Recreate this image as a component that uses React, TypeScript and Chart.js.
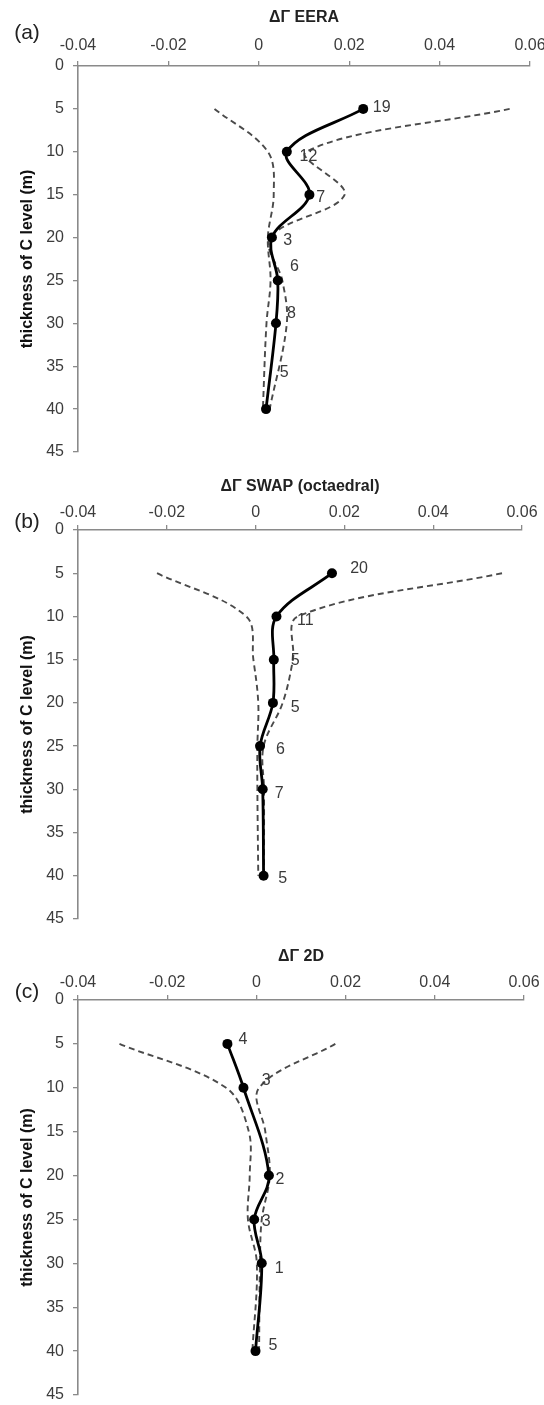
import React, { useRef, useEffect } from "react";
import { Chart, registerables } from "chart.js";

Chart.register(...registerables);
Chart.defaults.font.family = "'Liberation Sans', Arial, sans-serif";

// (a) ΔΓ EERA
const depthsA = [5, 10, 15, 20, 25, 30, 40];
const meanA = [0.0231, 0.0062, 0.0112, 0.0029, 0.0042, 0.0038, 0.0016];
const lowA = [-0.0098, 0.002, 0.0033, 0.002, 0.0026, 0.0017, 0.0009];
const highA = [0.0555, 0.0105, 0.019, 0.0025, 0.0052, 0.0062, 0.0024];
const countsA = [19, 12, 7, 3, 6, 8, 5];
const countXA = [0.0272, 0.011, 0.0137, 0.0064, 0.0079, 0.0072, 0.0056];
const countYA = [4.8, 10.6, 15.3, 20.3, 23.4, 28.9, 35.8];

// (b) ΔΓ SWAP (octaedral)
const depthsB = [5, 10, 15, 20, 25, 30, 40];
const meanB = [0.0172, 0.0047, 0.0041, 0.0039, 0.001, 0.0016, 0.0018];
const lowB = [-0.0222, -0.0021, -0.0005, 0.0006, 0.0004, 0.0004, 0.0006];
const highB = [0.0555, 0.0095, 0.0084, 0.0061, 0.0018, 0.0019, 0.0019];
const countsB = [20, 11, 5, 5, 6, 7, 5];
const countXB = [0.0233, 0.0112, 0.0089, 0.0089, 0.0056, 0.0053, 0.0061];
const countYB = [4.5, 10.5, 15.1, 20.5, 25.4, 30.5, 40.3];

// (c) ΔΓ 2D
const depthsC = [5, 10, 20, 25, 30, 40];
const meanC = [-0.0065, -0.0029, 0.0028, -0.0005, 0.0012, -0.0002];
const bandDepthsC = [5, 10, 15, 20, 25, 30, 40];
const lowC = [-0.0307, -0.0068, -0.0017, -0.0015, -0.0019, 0.0001, -0.0009];
const highC = [0.0177, 0.0006, 0.002, 0.003, 0.0012, 0.0008, 0.0006];
const countsC = [4, 3, 2, 3, 1, 5];
const countXC = [-0.003, 0.0022, 0.0053, 0.0022, 0.0051, 0.0037];
const countYC = [4.5, 9.2, 20.5, 25.3, 30.6, 39.4];

const xTicks = [-0.04, -0.02, 0, 0.02, 0.04, 0.06];
const yTicks = [0, 5, 10, 15, 20, 25, 30, 35, 40, 45];

interface PanelProps {
  letter: string;
  title: string;
  depths: number[];
  mean: number[];
  bandDepths: number[];
  low: number[];
  high: number[];
  counts: number[];
  countX: number[];
  countY: number[];
  top: number;
  height: number;
  axisTop: number;
  axisBottom: number;
  axisLeft: number;
  axisRight: number;
  titlePad: number;
  tickPad: number;
  letterY: number;
}

const pts = (xs: number[], ys: number[]) => xs.map((x, i) => ({ x, y: ys[i] }));

function Panel(p: PanelProps) {
  const canvasRef = useRef<HTMLCanvasElement>(null);

  useEffect(() => {
    if (!canvasRef.current) return;

    // sample counts next to the points, plus the panel letter
    const textPlugin = {
      id: "panelText",
      afterDatasetsDraw(chart: Chart) {
        const ctx = chart.ctx;
        const sx = chart.scales.x;
        const sy = chart.scales.y;
        ctx.save();
        ctx.font = "16px 'Liberation Sans', Arial, sans-serif";
        ctx.fillStyle = "#3a3a3a";
        ctx.textAlign = "center";
        ctx.textBaseline = "middle";
        p.counts.forEach((n, i) => {
          ctx.fillText(String(n), sx.getPixelForValue(p.countX[i]), sy.getPixelForValue(p.countY[i]));
        });
        ctx.font = "21px 'Liberation Sans', Arial, sans-serif";
        ctx.fillStyle = "#222";
        ctx.fillText(p.letter, 27, p.letterY);
        ctx.restore();
      },
    };

    const dashed = {
      borderColor: "#4a4a4a",
      borderWidth: 1.9,
      borderDash: [6, 4],
      pointRadius: 0,
      showLine: true,
      tension: 0.35,
      fill: false,
    };

    const chart = new Chart(canvasRef.current, {
      type: "scatter",
      data: {
        datasets: [
          {
            label: "mean",
            data: pts(p.mean, p.depths),
            borderColor: "#000",
            backgroundColor: "#000",
            borderWidth: 2.8,
            pointRadius: 5,
            pointBorderWidth: 0,
            showLine: true,
            tension: 0.35,
            order: 0,
          },
          { label: "low", data: pts(p.low, p.bandDepths), ...dashed, order: 1 },
          { label: "high", data: pts(p.high, p.bandDepths), ...dashed, order: 2 },
        ] as any,
      },
      options: {
        animation: false,
        responsive: false,
        maintainAspectRatio: false,
        events: [],
        layout: {
          padding: { left: 0, top: 0, right: 544 - p.axisRight, bottom: p.height - p.axisBottom },
        },
        plugins: {
          legend: { display: false },
          tooltip: { enabled: false },
        },
        scales: {
          x: {
            type: "linear",
            position: "top",
            min: -0.04,
            max: 0.06,
            afterBuildTicks: (s: any) => {
              s.ticks = xTicks.map((v) => ({ value: v }));
            },
            afterFit: (s: any) => {
              s.height = p.axisTop;
              s.paddingLeft = 0;
              s.paddingRight = 0;
            },
            ticks: {
              color: "#3c3c3c",
              font: { size: 16 },
              padding: p.tickPad,
              maxRotation: 0,
              autoSkip: false,
              callback: (v: any) => String(Math.round(Number(v) * 100) / 100),
            },
            grid: {
              drawOnChartArea: false,
              drawTicks: true,
              tickLength: 5,
              color: "#8a8a8a",
              lineWidth: 1.3,
            },
            border: { display: true, color: "#8a8a8a", width: 1.6 },
            title: {
              display: true,
              text: p.title,
              color: "#222",
              font: { size: 16, weight: "bold" },
              padding: { top: p.titlePad, bottom: 0 },
            },
          },
          y: {
            type: "linear",
            position: "left",
            reverse: true,
            min: 0,
            max: 45,
            afterBuildTicks: (s: any) => {
              s.ticks = yTicks.map((v) => ({ value: v }));
            },
            afterFit: (s: any) => {
              s.width = p.axisLeft;
              s.paddingTop = 0;
              s.paddingBottom = 0;
            },
            ticks: {
              color: "#3c3c3c",
              font: { size: 16 },
              padding: 9,
              autoSkip: false,
            },
            grid: {
              drawOnChartArea: false,
              drawTicks: true,
              tickLength: 5,
              color: "#8a8a8a",
              lineWidth: 1.3,
            },
            border: { display: true, color: "#8a8a8a", width: 1.6 },
            title: {
              display: true,
              text: "thickness of C level (m)",
              color: "#111",
              font: { size: 16, weight: "bold" },
              padding: { top: 18, bottom: 0 },
            },
          },
        },
      },
      plugins: [textPlugin],
    } as any);

    return () => {
      chart.destroy();
    };
  }, []);

  return (
    <canvas
      ref={canvasRef}
      width={544}
      height={p.height}
      style={{ position: "absolute", left: 0, top: p.top, width: 544, height: p.height }}
    />
  );
}

export default function App() {
  return (
    <div style={{ position: "absolute", left: 0, top: 0, width: 544, height: 1405, background: "#fff" }}>
      <Panel
        letter="(a)"
        title="ΔΓ EERA"
        depths={depthsA}
        mean={meanA}
        bandDepths={depthsA}
        low={lowA}
        high={highA}
        counts={countsA}
        countX={countXA}
        countY={countYA}
        top={0}
        height={470}
        axisTop={66}
        axisBottom={452}
        axisLeft={78}
        axisRight={530}
        titlePad={8}
        tickPad={6}
        letterY={33}
      />
      <Panel
        letter="(b)"
        title="ΔΓ SWAP (octaedral)"
        depths={depthsB}
        mean={meanB}
        bandDepths={depthsB}
        low={lowB}
        high={highB}
        counts={countsB}
        countX={countXB}
        countY={countYB}
        top={470}
        height={470}
        axisTop={60}
        axisBottom={449}
        axisLeft={78}
        axisRight={522}
        titlePad={7}
        tickPad={3}
        letterY={52}
      />
      <Panel
        letter="(c)"
        title="ΔΓ 2D"
        depths={depthsC}
        mean={meanC}
        bandDepths={bandDepthsC}
        low={lowC}
        high={highC}
        counts={countsC}
        countX={countXC}
        countY={countYC}
        top={940}
        height={465}
        axisTop={60}
        axisBottom={455}
        axisLeft={78}
        axisRight={524}
        titlePad={7}
        tickPad={3}
        letterY={52}
      />
    </div>
  );
}
